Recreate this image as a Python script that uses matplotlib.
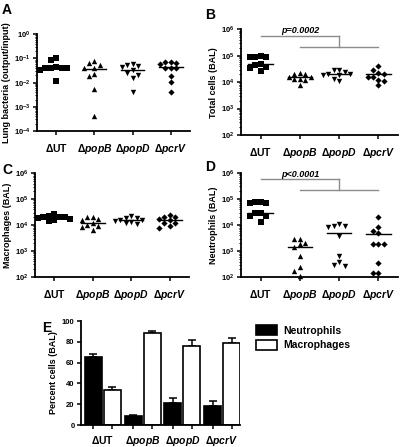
import numpy as np
import matplotlib
matplotlib.use('Agg')
import matplotlib.pyplot as plt

plt.rcParams['font.family'] = ['Liberation Sans', 'DejaVu Sans']
plt.rcParams['font.weight'] = 'bold'
plt.rcParams['mathtext.fontset'] = 'custom'
plt.rcParams['mathtext.rm'] = 'Liberation Sans:bold'
plt.rcParams['mathtext.bf'] = 'Liberation Sans:bold'
plt.rcParams['mathtext.bfit'] = 'Liberation Sans:italic:bold'
plt.rcParams['mathtext.it'] = 'Liberation Sans:italic:bold'

strains = ['UT', 'popB', 'popD', 'pcrV']
tick_labels = [r'$\Delta\mathrm{UT}$', r'$\Delta\mathbfit{popB}$',
               r'$\Delta\mathbfit{popD}$', r'$\Delta\mathbfit{pcrV}$']
markers = ['s', '^', 'v', 'D']

# A: lung bacteria (output/input)
lung_ut = [0.089, 0.108, 0.040, 0.041, 0.043, 0.039, 0.033, 0.040, 0.012]
lung_popb = [0.067, 0.079, 0.054, 0.042, 0.042, 0.023, 0.019, 0.0054, 0.0004]
lung_popd = [0.058, 0.054, 0.047, 0.046, 0.034, 0.025, 0.021, 0.015, 0.0043]
lung_pcrv = [0.072, 0.069, 0.067, 0.058, 0.042, 0.042, 0.041, 0.018, 0.011, 0.0043]
lung_line = [0.042, 0.038, 0.033, 0.044]

# B: total cells
total_ut = [9.5e4, 9.0e4, 8.8e4, 9.3e4, 4.8e4, 4.6e4, 3.8e4, 3.3e4, 2.7e4]
total_popb = [2.2e4, 2.1e4, 2.0e4, 1.6e4, 1.5e4, 1.3e4, 1.3e4, 1.2e4, 7.5e3]
total_popd = [3.0e4, 2.8e4, 2.5e4, 2.1e4, 2.0e4, 1.9e4, 1.8e4, 1.3e4, 1.1e4]
total_pcrv = [4.2e4, 3.0e4, 2.3e4, 2.1e4, 1.6e4, 1.5e4, 1.2e4, 1.1e4, 7.5e3]
total_line = [4.7e4, 1.5e4, 2.0e4, 2.0e4]

# C: macrophages
mac_ut = [2.6e4, 2.3e4, 2.1e4, 2.0e4, 2.0e4, 1.9e4, 1.7e4, 1.5e4, 1.4e4]
mac_popb = [2.1e4, 2.0e4, 1.7e4, 1.6e4, 1.2e4, 1.0e4, 9.5e3, 8.5e3, 6.5e3]
mac_popd = [2.2e4, 1.9e4, 1.8e4, 1.6e4, 1.5e4, 1.4e4, 1.3e4, 1.15e4, 1.1e4]
mac_pcrv = [2.5e4, 2.1e4, 2.0e4, 1.7e4, 1.5e4, 1.2e4, 1.15e4, 8.8e3, 7.9e3]
mac_line = [2.0e4, 1.17e4, 1.5e4, 1.5e4]

# D: neutrophils
neut_ut = [7.8e4, 7.4e4, 7.0e4, 6.8e4, 2.9e4, 2.8e4, 2.3e4, 2.2e4, 1.3e4]
neut_popb = [3.0e3, 2.9e3, 2.0e3, 1.9e3, 1.4e3, 680, 240, 175, 110]
neut_popd = [1.1e4, 9.5e3, 9.0e3, 8.5e3, 3.8e3, 680, 380, 290, 280]
neut_pcrv = [2.1e4, 8.5e3, 6.0e3, 5.0e3, 1.8e3, 1.8e3, 1.8e3, 360, 150, 140]
neut_line = [2.8e4, 1.4e3, 4.9e3, 4.6e3]

# E: percent cells
pct_neut = [65, 8.5, 21, 18]
pct_neut_err = [3, 1.5, 5, 5]
pct_mac = [34, 88, 76, 79]
pct_mac_err = [3, 2, 5.5, 5]

W, H = 400, 447
fig = plt.figure(figsize=(W / 100, H / 100), dpi=100)


def px_axes(left, top, right, bottom):
    return fig.add_axes([left / W, 1 - bottom / H, (right - left) / W, (bottom - top) / H])


def swarm_x(ax, x0, vals, d=5.4):
    pts = ax.transData.transform(np.column_stack([np.full(len(vals), x0), vals]))
    xc = pts[0, 0]
    ys = pts[:, 1]
    xs = np.zeros(len(vals))
    placed = []
    for i in np.argsort(-ys):
        for k in [0, -1, 1, -2, 2, -3, 3, -4, 4]:
            cx = xc + k * d
            if all((cx - px) ** 2 + (ys[i] - py) ** 2 >= (d * 0.95) ** 2 for px, py in placed):
                break
        placed.append((cx, ys[i]))
        xs[i] = cx
    return ax.transData.inverted().transform(np.column_stack([xs, ys]))[:, 0]


def style(ax):
    for s in ['top', 'right']:
        ax.spines[s].set_visible(False)
    for s in ['left', 'bottom']:
        ax.spines[s].set_linewidth(1.3)
    ax.tick_params(axis='both', which='major', length=3, width=1.1, direction='out')
    ax.tick_params(axis='both', which='minor', length=1.8, width=0.7)
    ax.tick_params(axis='y', labelsize=5.5, pad=1.5)
    ax.tick_params(axis='x', labelsize=7.5, pad=5)


def scatter_panel(ax, groups, lines, ylim, ylabel):
    ax.set_yscale('log')
    ax.set_xlim(-0.5, 3.5)
    ax.set_ylim(*ylim)
    style(ax)
    for i, vals in enumerate(groups):
        xs = swarm_x(ax, i, vals)
        ms = 15 if markers[i] != 'D' else 10
        ax.scatter(xs, vals, marker=markers[i], s=ms, color='black', linewidths=0, clip_on=False, zorder=3)
        ax.plot([i - 0.31, i + 0.31], [lines[i], lines[i]], color='black', lw=1.0, zorder=2)
    ax.set_xticks(range(4))
    ax.set_xticklabels(tick_labels)
    ax.set_ylabel(ylabel, fontsize=6.5, fontweight='bold', labelpad=2)


def bracket(ax, text):
    c = '#8c8c8c'
    ax.plot([0, 2], [5.7e5, 5.7e5], color=c, lw=1.0, clip_on=False)
    ax.plot([2, 2], [5.7e5, 2.2e5], color=c, lw=1.0, clip_on=False)
    ax.plot([1, 3], [2.2e5, 2.2e5], color=c, lw=1.0, clip_on=False)
    ax.text(1.0, 8.9e5, text, ha='center', va='center', fontsize=6.5,
            fontweight='bold', style='italic')


axA = px_axes(37, 34.3, 190, 131)
scatter_panel(axA, [lung_ut, lung_popb, lung_popd, lung_pcrv], lung_line, (1e-4, 1e0),
              'Lung bacteria (output/input)')

axB = px_axes(241, 29.3, 398, 135)
scatter_panel(axB, [total_ut, total_popb, total_popd, total_pcrv], total_line, (1e2, 1e6),
              'Total cells (BAL)')
bracket(axB, 'p=0.0002')

axC = px_axes(35, 173.3, 189, 276.7)
scatter_panel(axC, [mac_ut, mac_popb, mac_popd, mac_pcrv], mac_line, (1e2, 1e6),
              'Macrophages (BAL)')

axD = px_axes(241, 172.7, 398, 277.3)
scatter_panel(axD, [neut_ut, neut_popb, neut_popd, neut_pcrv], neut_line, (1e2, 1e6),
              'Neutrophils (BAL)')
bracket(axD, 'p<0.0001')

# E: bar chart
axE = px_axes(81, 321, 240, 425)
x = np.arange(4)
off, bw = 0.24, 0.43
axE.bar(x - off, pct_neut, bw, color='black', edgecolor='black', lw=1.2, label='Neutrophils', zorder=2)
axE.bar(x + off, pct_mac, bw, color='white', edgecolor='black', lw=1.2, label='Macrophages', zorder=2)
axE.errorbar(x - off, pct_neut, yerr=[np.zeros(4), pct_neut_err], fmt='none', ecolor='black',
             elinewidth=1.1, capsize=3, capthick=1.1, zorder=1)
axE.errorbar(x + off, pct_mac, yerr=[np.zeros(4), pct_mac_err], fmt='none', ecolor='black',
             elinewidth=1.1, capsize=3, capthick=1.1, zorder=1)
axE.set_xlim(-0.55, 3.45)
axE.set_ylim(0, 100)
style(axE)
axE.set_yticks([0, 20, 40, 60, 80, 100])
axE.tick_params(axis='y', labelsize=5.5)
axE.set_xticks(np.concatenate([x - off, x + off]))
axE.set_xticklabels([])
for i, lab in enumerate(tick_labels):
    axE.text(i, -9, lab, ha='center', va='top', fontsize=7.5, transform=axE.transData)
axE.set_ylabel('Percent cells (BAL)', fontsize=6.5, fontweight='bold', labelpad=3)
axE.legend(loc='upper left', bbox_to_anchor=(256 / W, 1 - 325 / H), bbox_transform=fig.transFigure,
           frameon=False, fontsize=7.5, handlelength=2.0, handleheight=1.1, borderpad=0,
           borderaxespad=0, labelspacing=0.4, handletextpad=0.6)

for letter, (lx, ly) in zip('ABCDE', [(2, 10), (205, 15), (2, 170), (205, 167), (42, 328)]):
    fig.text(lx / W, 1 - ly / H, letter, fontsize=10, fontweight='bold', ha='left', va='center')

fig.savefig('out.png', dpi=100)
